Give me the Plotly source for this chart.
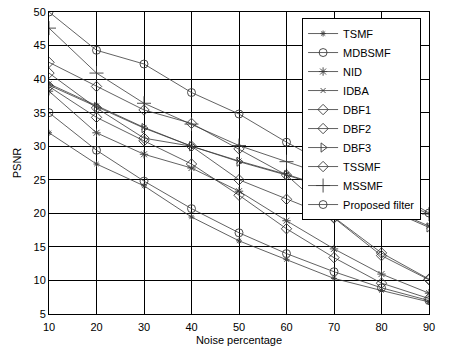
import plotly.graph_objects as go

noise = [10, 20, 30, 40, 50, 60, 70, 80, 90]

tsmf = [32.0, 27.35, 24.1, 19.45, 15.9, 13.1, 10.3, 8.5, 6.8]
mdbsmf = [35.0, 29.4, 24.8, 20.7, 17.1, 14.0, 11.3, 8.9, 7.0]
nid = [38.2, 32.0, 28.8, 26.75, 23.3, 18.9, 14.7, 10.95, 8.1]
idba = [39.3, 36.0, 32.8, 30.0, 27.8, 25.8, 23.6, 21.2, 18.1]
dbf1 = [40.9, 35.7, 31.2, 30.0, 25.0, 22.1, 19.3, 13.7, 10.1]
dbf2 = [38.9, 34.3, 30.8, 27.35, 22.7, 17.7, 13.4, 9.6, 7.3]
dbf3 = [39.1, 35.85, 32.7, 30.0, 27.7, 25.7, 23.5, 21.0, 17.9]
tssmf = [42.5, 38.9, 35.4, 33.4, 29.6, 25.7, 19.4, 14.1, 10.2]
mssmf = [47.6, 40.9, 36.4, 33.3, 30.1, 27.7, 25.3, 22.9, 19.9]
proposed = [50.0, 44.3, 42.25, 38.0, 34.8, 30.6, 26.8, 24.2, 20.05]

series = [
    ("TSMF", tsmf, "asterisk-open", 5),
    ("MDBSMF", mdbsmf, "circle-open", 8),
    ("NID", nid, "asterisk-open", 7),
    ("IDBA", idba, "x-thin-open", 5),
    ("DBF1", dbf1, "diamond-open", 8),
    ("DBF2", dbf2, "diamond-open", 8),
    ("DBF3", dbf3, "triangle-right-open", 8),
    ("TSSMF", tssmf, "diamond-open", 8),
    ("MSSMF", mssmf, "cross-thin-open", 10),
    ("Proposed filter", proposed, "circle-open", 8),
]

fig = go.Figure()
for name, vals, sym, sz in series:
    fig.add_trace(go.Scatter(
        x=noise, y=vals, name=name, mode="lines+markers",
        line=dict(color="#3a3a3a", width=0.8),
        marker=dict(symbol=sym, size=sz, color="#3a3a3a",
                    line=dict(color="#3a3a3a", width=0.9)),
    ))

axis_common = dict(
    showgrid=True, gridcolor="black", gridwidth=1,
    showline=True, linecolor="black", linewidth=1, mirror=True,
    ticks="inside", ticklen=4, tickcolor="black",
    zeroline=False, automargin=False,
    tickfont=dict(family="Liberation Sans, Arial", size=11, color="black"),
)

fig.update_layout(
    width=456, height=350,
    margin=dict(l=49, r=27, t=12, b=36),
    paper_bgcolor="white", plot_bgcolor="white",
    font=dict(family="Liberation Sans, Arial", size=11, color="black"),
    xaxis=dict(range=[10, 90], tickvals=noise, ticklabelstandoff=3,
               title=dict(text="Noise percentage", standoff=4,
                          font=dict(size=11)),
               **axis_common),
    yaxis=dict(range=[5, 50], tickvals=[5, 10, 15, 20, 25, 30, 35, 40, 45, 50],
               title=dict(text="PSNR", standoff=9, font=dict(size=11)),
               **axis_common),
    legend=dict(x=0.666, y=0.98, xanchor="left", yanchor="top",
                bgcolor="white", bordercolor="black", borderwidth=1,
                font=dict(size=11, color="black"), tracegroupgap=0,
                itemwidth=30),
    showlegend=True,
)

fig.write_html("out.html")
